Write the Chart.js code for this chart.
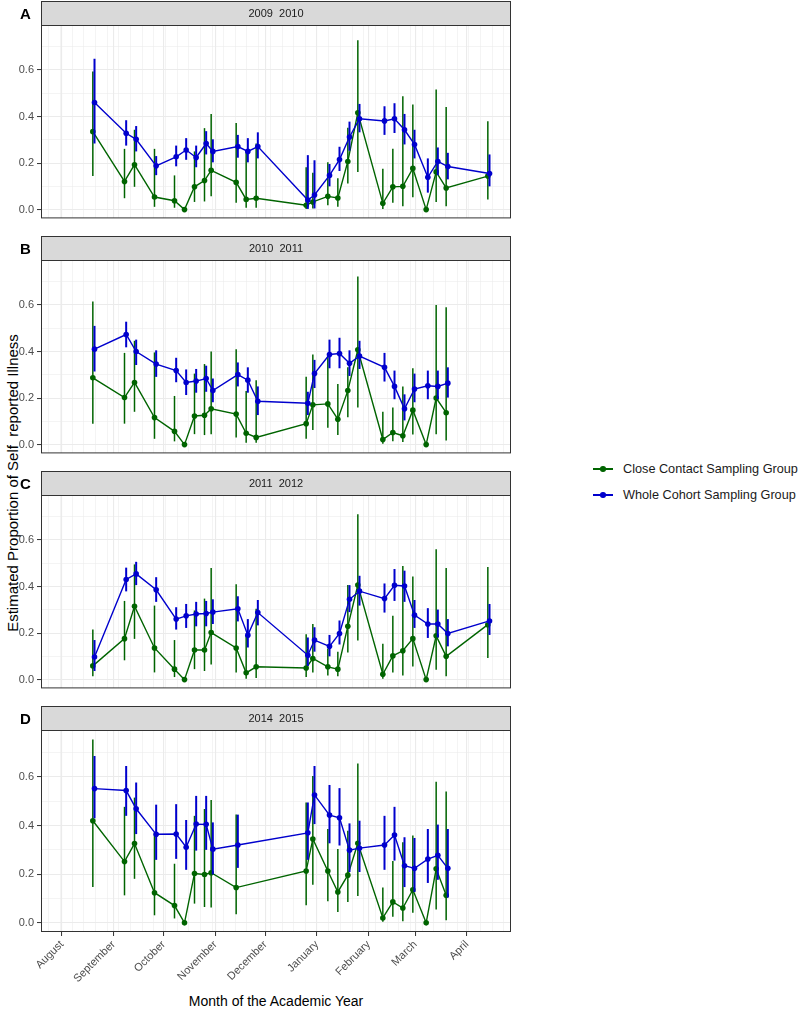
<!DOCTYPE html>
<html>
<head>
<meta charset="utf-8">
<script src="https://cdn.jsdelivr.net/npm/chart.js@4.4.1/dist/chart.umd.min.js"></script>
<style>
  body { margin: 0; background: #fff; font-family: "Liberation Sans", Arial, sans-serif; }
  #pagina { position: relative; width: 800px; height: 1012px; overflow: hidden; }
  .painel { position: absolute; left: 0; width: 520px; }
  .letra { position: absolute; left: 20px; font-size: 15px; font-weight: bold; color: #000; line-height: 1; }
  #tituloY { position: absolute; left: 12px; top: 483px; transform: translate(-50%, -50%) rotate(-90deg);
             font-size: 15px; white-space: pre; color: #000; }
  #tituloX { position: absolute; left: 276px; top: 1001px; transform: translate(-50%, -50%);
             font-size: 14px; white-space: nowrap; color: #000; }
  .itemLegenda { position: absolute; left: 593px; font-size: 12.7px; color: #1a1a1a; white-space: nowrap; }
  .itemLegenda .linha { position: absolute; left: 0; top: -0.7px; width: 20px; height: 1.4px; }
  .itemLegenda .ponto { position: absolute; left: 7.2px; top: -2.8px; width: 5.6px; height: 5.6px; border-radius: 50%; }
  .itemLegenda span.texto { position: absolute; left: 30px; top: -7.5px; }
</style>
</head>
<body>
<div id="pagina">
  <div id="tituloY">Estimated Proportion of Self  reported Illness</div>
  <div id="tituloX">Month of the Academic Year</div>
</div>
<script>
// Datas de coleta (dias desde 1 de agosto)
const diasAmostra = [19, 38, 44, 56, 68, 74, 80, 86, 90, 105, 111, 117, 147, 151, 160, 166, 172, 178, 193, 199, 205, 211, 219, 225, 231, 256];

// Eixo x: início de cada mês e nomes
const inicioMes = [0, 31, 61, 92, 122, 153, 184, 212, 243];
const nomesMes = ['August', 'September', 'October', 'November', 'December', 'January', 'February', 'March', 'April'];

// Eixo y
const marcasY = [0, 0.1, 0.2, 0.3, 0.4, 0.5, 0.6, 0.7];

const temporadas = ['2009  2010', '2010  2011', '2011  2012', '2014  2015'];
const letras = ['A', 'B', 'C', 'D'];
const nomesGrupo = ['Close Contact Sampling Group', 'Whole Cohort Sampling Group'];

// ----- 2009 2010 -----
const contatoA    = [0.335, 0.121, 0.193, 0.054, 0.038, 0, 0.098, 0.125, 0.169, 0.117, 0.044, 0.049, 0.019, 0.033, 0.057, 0.05, 0.207, 0.416, 0.027, 0.098, 0.1, 0.177, 0, 0.162, 0.093, 0.144];
const contatoAInf = [0.144, 0.049, 0.098, 0.012, 0.008, 0, 0.033, 0.035, 0.057, 0.03, 0.008, 0.008, 0.003, 0.005, 0.019, 0.012, 0.112, 0.162, 0.003, 0.03, 0.014, 0.053, 0, 0.033, 0.014, 0.044];
const contatoASup = [0.593, 0.261, 0.343, 0.261, 0.147, 0, 0.25, 0.35, 0.411, 0.372, 0.25, 0.284, 0.182, 0.158, 0.203, 0.135, 0.352, 0.727, 0.176, 0.261, 0.487, 0.452, 0, 0.516, 0.441, 0.38];
const coorteA     = [0.46, 0.328, 0.302, 0.188, 0.227, 0.256, 0.224, 0.284, 0.25, 0.271, 0.25, 0.271, 0.041, 0.063, 0.147, 0.215, 0.312, 0.39, 0.381, 0.39, 0.343, 0.28, 0.139, 0.207, 0.185, 0.155];
const coorteAInf  = [0.284, 0.275, 0.25, 0.148, 0.186, 0.214, 0.182, 0.237, 0.203, 0.223, 0.203, 0.22, 0.003, 0.005, 0.1, 0.166, 0.253, 0.332, 0.321, 0.329, 0.28, 0.22, 0.073, 0.148, 0.13, 0.1];
const coorteASup  = [0.648, 0.384, 0.359, 0.23, 0.275, 0.307, 0.275, 0.337, 0.302, 0.321, 0.307, 0.332, 0.234, 0.212, 0.196, 0.27, 0.378, 0.454, 0.444, 0.457, 0.411, 0.343, 0.22, 0.267, 0.244, 0.237];

// ----- 2010 2011 -----
const contatoB    = [0.287, 0.202, 0.267, 0.116, 0.057, 0, 0.123, 0.126, 0.154, 0.131, 0.049, 0.031, 0.09, 0.171, 0.175, 0.109, 0.232, 0.407, 0.022, 0.052, 0.038, 0.148, 0, 0.2, 0.137, null];
const contatoBInf = [0.09, 0.09, 0.141, 0.025, 0.014, 0, 0.045, 0.041, 0.045, 0.031, 0.008, 0.008, 0.025, 0.063, 0.072, 0.041, 0.118, 0.159, 0.004, 0.014, 0.011, 0.044, 0, 0.045, 0.018, null];
const contatoBSup = [0.615, 0.394, 0.446, 0.396, 0.209, 0, 0.305, 0.346, 0.4, 0.41, 0.23, 0.277, 0.291, 0.387, 0.387, 0.26, 0.332, 0.722, 0.141, 0.159, 0.25, 0.328, 0, 0.6, 0.59, null];
const coorteB     = [0.41, 0.473, 0.4, 0.346, 0.318, 0.267, 0.273, 0.284, 0.232, 0.301, 0.277, 0.186, 0.178, 0.305, 0.387, 0.391, 0.349, 0.38, 0.332, 0.25, 0.154, 0.239, 0.253, 0.25, 0.264, null];
const coorteBInf  = [0.314, 0.418, 0.342, 0.291, 0.268, 0.213, 0.223, 0.227, 0.182, 0.25, 0.223, 0.127, 0.127, 0.243, 0.328, 0.328, 0.295, 0.325, 0.271, 0.195, 0.104, 0.182, 0.195, 0.195, 0.202, null];
const coorteBSup  = [0.51, 0.528, 0.451, 0.405, 0.373, 0.323, 0.325, 0.339, 0.284, 0.353, 0.332, 0.25, 0.227, 0.364, 0.451, 0.459, 0.405, 0.446, 0.394, 0.318, 0.216, 0.305, 0.318, 0.318, 0.332, null];

// ----- 2011 2012 -----
const contatoC    = [0.059, 0.176, 0.315, 0.136, 0.045, 0, 0.127, 0.127, 0.202, 0.136, 0.029, 0.055, 0.05, 0.091, 0.055, 0.045, 0.229, 0.406, 0.023, 0.102, 0.124, 0.176, 0, 0.188, 0.1, 0.236];
const contatoCInf = [0.015, 0.083, 0.175, 0.031, 0.011, 0, 0.045, 0.037, 0.065, 0.031, 0.004, 0.007, 0.011, 0.031, 0.018, 0.015, 0.116, 0.168, 0.004, 0.031, 0.018, 0.056, 0, 0.042, 0.015, 0.093];
const contatoCSup = [0.215, 0.338, 0.495, 0.318, 0.17, 0, 0.297, 0.348, 0.479, 0.41, 0.192, 0.304, 0.195, 0.239, 0.134, 0.12, 0.406, 0.71, 0.154, 0.274, 0.488, 0.443, 0, 0.56, 0.479, 0.484];
const coorteC     = [0.097, 0.43, 0.454, 0.386, 0.26, 0.274, 0.282, 0.284, 0.29, 0.304, 0.191, 0.288, 0.105, 0.17, 0.143, 0.198, 0.345, 0.38, 0.348, 0.405, 0.402, 0.277, 0.239, 0.239, 0.198, 0.252];
const coorteCInf  = [0.037, 0.379, 0.406, 0.334, 0.215, 0.222, 0.229, 0.229, 0.239, 0.25, 0.138, 0.233, 0.059, 0.12, 0.1, 0.151, 0.29, 0.318, 0.288, 0.338, 0.334, 0.222, 0.179, 0.181, 0.143, 0.192];
const coorteCSup  = [0.17, 0.481, 0.506, 0.44, 0.311, 0.325, 0.334, 0.338, 0.345, 0.358, 0.26, 0.342, 0.181, 0.225, 0.192, 0.254, 0.406, 0.446, 0.413, 0.475, 0.468, 0.342, 0.307, 0.301, 0.26, 0.325];

// ----- 2014 2015 -----
const contatoD    = [0.42, 0.252, 0.326, 0.124, 0.071, 0, 0.203, 0.199, 0.206, 0.145, null, null, 0.213, 0.345, 0.213, 0.127, 0.196, 0.327, 0.02, 0.086, 0.061, 0.136, 0, 0.222, 0.113, null];
const contatoDInf = [0.147, 0.113, 0.181, 0.031, 0.018, 0, 0.079, 0.065, 0.063, 0.035, null, null, 0.072, 0.157, 0.089, 0.045, 0.086, 0.11, 0.004, 0.025, 0.007, 0.041, 0, 0.055, 0.011, null];
const contatoDSup = [0.754, 0.477, 0.515, 0.372, 0.243, 0, 0.44, 0.468, 0.505, 0.445, null, null, 0.495, 0.604, 0.386, 0.304, 0.379, 0.655, 0.145, 0.254, 0.331, 0.359, 0, 0.58, 0.54, null];
const coorteD     = [0.552, 0.544, 0.469, 0.364, 0.365, 0.311, 0.406, 0.405, 0.303, 0.32, null, null, 0.37, 0.526, 0.443, 0.432, 0.299, 0.307, 0.32, 0.361, 0.235, 0.224, 0.262, 0.278, 0.224, null];
const coorteDInf  = [0.43, 0.44, 0.365, 0.259, 0.263, 0.218, 0.297, 0.3, 0.199, 0.226, null, null, 0.259, 0.406, 0.327, 0.318, 0.209, 0.209, 0.218, 0.256, 0.147, 0.127, 0.164, 0.177, 0.104, null];
const coorteDSup  = [0.686, 0.645, 0.577, 0.486, 0.488, 0.423, 0.522, 0.522, 0.413, 0.445, null, null, 0.495, 0.645, 0.567, 0.554, 0.409, 0.42, 0.44, 0.477, 0.352, 0.349, 0.386, 0.404, 0.386, null];

const corContato = '#006400';
const corCoorte = '#0000cd';

const paineis = [
  { contato: [contatoA, contatoAInf, contatoASup], coorte: [coorteA, coorteAInf, coorteASup] },
  { contato: [contatoB, contatoBInf, contatoBSup], coorte: [coorteB, coorteBInf, coorteBSup] },
  { contato: [contatoC, contatoCInf, contatoCSup], coorte: [coorteC, coorteCInf, coorteCSup] },
  { contato: [contatoD, contatoDInf, contatoDSup], coorte: [coorteD, coorteDInf, coorteDSup] }
];

Chart.defaults.font.family = '"Liberation Sans", Arial, sans-serif';
Chart.defaults.color = '#4d4d4d';

// grade menor semanal + meses como grade maior (sem repetir valores)
const marcasX = [...inicioMes];
for (let d = -8; d < 270; d += 7) {
  if (!inicioMes.includes(d)) marcasX.push(d);
}
marcasX.sort((a, b) => a - b);

// monta os pontos {x, y, inf, sup} de uma série (com deslocamento de esquiva)
function montarPontos(serie, desloc) {
  const [est, inf, sup] = serie;
  const pontos = [];
  diasAmostra.forEach((dia, i) => {
    if (est[i] === null) return;
    pontos.push({ x: dia + desloc, y: est[i], inf: inf[i], sup: sup[i] });
  });
  return pontos;
}

// Plugin: barras de erro, borda do painel e faixa com o título
const pluginPainel = {
  id: 'painel',
  afterDatasetDraw(chart, args) {
    const ds = chart.data.datasets[args.index];
    const escalaY = chart.scales.y;
    const ctx = chart.ctx;
    ctx.save();
    ctx.strokeStyle = ds.borderColor;
    ctx.lineWidth = ds.larguraBarra;
    args.meta.data.forEach((el, i) => {
      const p = ds.data[i];
      if (!(p.sup > p.inf)) return;
      ctx.beginPath();
      ctx.moveTo(el.x, escalaY.getPixelForValue(p.inf));
      ctx.lineTo(el.x, escalaY.getPixelForValue(p.sup));
      ctx.stroke();
    });
    ctx.restore();
  },
  afterDraw(chart, args, opts) {
    const { left, right, top, bottom } = chart.chartArea;
    const ctx = chart.ctx;
    ctx.save();
    ctx.strokeStyle = '#333333';
    ctx.lineWidth = 1;
    ctx.strokeRect(left + 0.5, top + 0.5, right - left - 1, bottom - top - 1);
    // faixa
    ctx.fillStyle = '#d9d9d9';
    ctx.fillRect(left, 1, right - left, top - 1);
    ctx.strokeRect(left + 0.5, 1.5, right - left - 1, top - 1);
    ctx.fillStyle = '#1a1a1a';
    ctx.font = '11px "Liberation Sans", Arial, sans-serif';
    ctx.textAlign = 'center';
    ctx.textBaseline = 'middle';
    ctx.fillText(opts.titulo, (left + right) / 2, (top + 1) / 2 + 0.5);
    ctx.restore();
  }
};

const ehMes = v => inicioMes.includes(v);
const ehMaiorY = v => Math.round(v * 10) % 2 === 0;

const topos = [0, 235, 470, 705];
const pagina = document.getElementById('pagina');

paineis.forEach((painel, k) => {
  const ultimo = k === paineis.length - 1;
  const altura = 228 + (ultimo ? 57 : 0);

  const caixa = document.createElement('div');
  caixa.className = 'painel';
  caixa.style.top = topos[k] + 'px';
  caixa.style.height = altura + 'px';
  const canvas = document.createElement('canvas');
  caixa.appendChild(canvas);
  pagina.appendChild(caixa);

  const letra = document.createElement('div');
  letra.className = 'letra';
  letra.textContent = letras[k];
  letra.style.top = (topos[k] + 6) + 'px';
  pagina.appendChild(letra);

  new Chart(canvas, {
    type: 'line',
    data: {
      datasets: [
        {
          label: nomesGrupo[0],
          data: montarPontos(painel.contato, -0.5),
          borderColor: corContato,
          backgroundColor: corContato,
          borderWidth: 1.4,
          pointRadius: 2.8,
          pointBorderWidth: 0,
          larguraBarra: 1.5,
          order: 2
        },
        {
          label: nomesGrupo[1],
          data: montarPontos(painel.coorte, 0.5),
          borderColor: corCoorte,
          backgroundColor: corCoorte,
          borderWidth: 1.4,
          pointRadius: 2.8,
          pointBorderWidth: 0,
          larguraBarra: 2,
          order: 1
        }
      ]
    },
    options: {
      responsive: true,
      maintainAspectRatio: false,
      animation: false,
      layout: { padding: { top: 25, right: 9, bottom: 1, left: 0 } },
      plugins: {
        legend: { display: false },
        tooltip: { enabled: false },
        painel: { titulo: temporadas[k] }
      },
      scales: {
        x: {
          type: 'linear',
          min: -12.6,
          max: 269.4,
          afterBuildTicks: s => { s.ticks = marcasX.map(v => ({ value: v })); },
          afterFit: s => { s.height = ultimo ? 57 : 0; },
          border: { display: false },
          grid: {
            color: '#ebebeb',
            lineWidth: c => (c.tick && ehMes(c.tick.value) ? 1.1 : 0.55),
            drawTicks: ultimo,
            tickLength: 4,
            tickWidth: 1,
            tickColor: c => (c.tick && ehMes(c.tick.value) ? '#333333' : 'rgba(0,0,0,0)')
          },
          ticks: {
            display: ultimo,
            autoSkip: false,
            minRotation: 45,
            maxRotation: 45,
            padding: 2,
            color: '#4d4d4d',
            font: { size: 11 },
            callback: v => (ehMes(v) ? nomesMes[inicioMes.indexOf(v)] : '')
          }
        },
        y: {
          min: -0.0377,
          max: 0.793,
          afterBuildTicks: s => { s.ticks = marcasY.map(v => ({ value: v })); },
          afterFit: s => { s.width = 41; },
          border: { display: false },
          grid: {
            color: '#ebebeb',
            lineWidth: c => (c.tick && ehMaiorY(c.tick.value) ? 1.1 : 0.55),
            tickLength: 4,
            tickWidth: 1,
            tickColor: c => (c.tick && ehMaiorY(c.tick.value) ? '#333333' : 'rgba(0,0,0,0)')
          },
          ticks: {
            autoSkip: false,
            padding: 3,
            color: '#4d4d4d',
            font: { size: 11 },
            callback: v => (ehMaiorY(v) ? v.toFixed(1) : '')
          }
        }
      }
    },
    plugins: [pluginPainel]
  });
});

// Legenda
[corContato, corCoorte].forEach((cor, i) => {
  const item = document.createElement('div');
  item.className = 'itemLegenda';
  item.style.top = (469 + i * 26) + 'px';
  item.innerHTML = '<div class="linha" style="background:' + cor + '"></div>' +
    '<div class="ponto" style="background:' + cor + '"></div>' +
    '<span class="texto">' + nomesGrupo[i] + '</span>';
  pagina.appendChild(item);
});
</script>
</body>
</html>
